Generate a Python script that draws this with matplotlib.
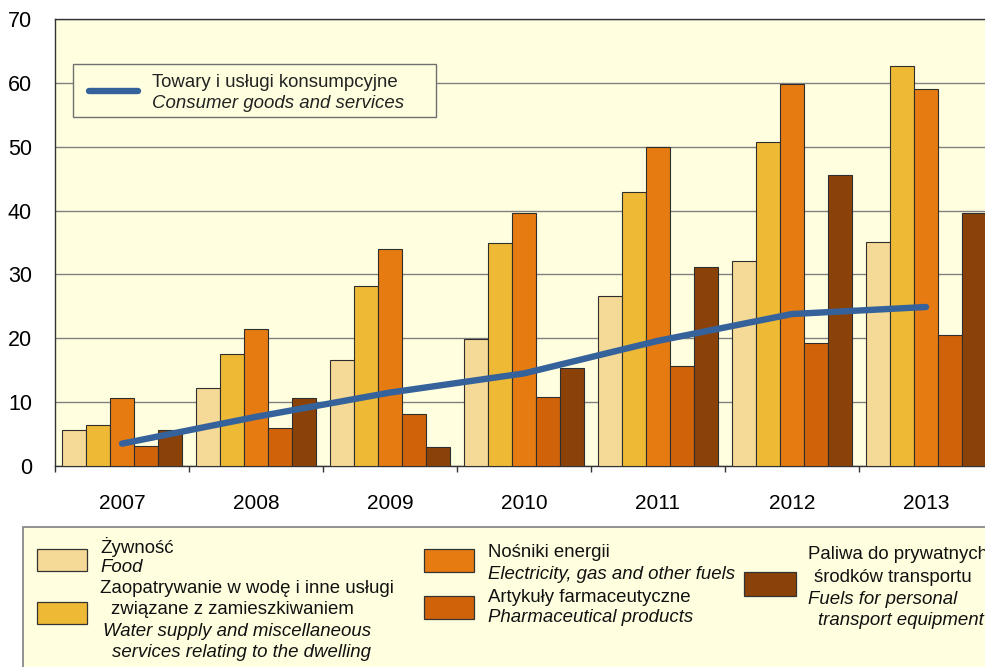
import matplotlib
matplotlib.use('Agg')
import matplotlib.pyplot as plt
from matplotlib.patches import Rectangle
from matplotlib.lines import Line2D
import numpy as np

plt.rcParams['font.family'] = ['Liberation Sans', 'DejaVu Sans']

# ---------------- data ----------------
years = ['2007', '2008', '2009', '2010', '2011', '2012', '2013']
food = [5.6, 12.2, 16.6, 19.9, 26.7, 32.1, 35.0]
water = [6.4, 17.5, 28.2, 34.9, 42.9, 50.8, 62.7]
energy = [10.6, 21.5, 34.0, 39.6, 49.9, 59.8, 59.0]
pharma = [3.2, 6.0, 8.1, 10.8, 15.7, 19.2, 20.5]
fuels = [5.7, 10.7, 3.0, 15.3, 31.2, 45.5, 39.6]
cpi = [3.5, 7.7, 11.5, 14.5, 19.6, 23.8, 24.9]

cpi_label_pl = 'Towary i usługi konsumpcyjne'
cpi_label_en = 'Consumer goods and services'
yticks = [0, 10, 20, 30, 40, 50, 60, 70]

series = [food, water, energy, pharma, fuels]
colors = ['#F5D996', '#EEB934', '#E67B12', '#D0620A', '#8B4209']

W, H = 985, 667
def fx(x):
    return x / W
def fy(y):
    return 1 - y / H

bg = '#FFFFE0'
fig = plt.figure(figsize=(W / 100, H / 100), dpi=100)
fig.patch.set_facecolor('white')
ax = fig.add_axes([fx(55), fy(466), (993 - 55) / W, (466 - 19) / H])
ax.set_facecolor(bg)

x = np.arange(len(years))
bw = 0.179
for i, (vals, c) in enumerate(zip(series, colors)):
    ax.bar(x + (i - 2) * bw, vals, width=bw, color=c, edgecolor='#2E2E2E',
           linewidth=0.8, zorder=3)

ax.plot(x, cpi, color='#35629A', lw=4.6, solid_capstyle='round',
        solid_joinstyle='round', zorder=4)

ax.set_xlim(-0.5, len(years) - 0.5)
ax.set_ylim(0, 70)
ax.set_yticks(yticks)
ax.set_yticklabels([str(v) for v in yticks])
ax.yaxis.grid(True, color='#808080', lw=1.0, zorder=0)
ax.set_axisbelow(True)
ax.tick_params(axis='y', length=0, pad=16.5, labelsize=15.5)
ax.set_xticks(x)
ax.set_xticklabels(years)
ax.set_xticks(np.arange(len(years) + 1) - 0.5, minor=True)
ax.tick_params(axis='x', which='major', length=0, pad=20, labelsize=15)
ax.tick_params(axis='x', which='minor', length=4, width=1.0, color='#333333', direction='out')
for s in ax.spines.values():
    s.set_color('#333333')
    s.set_linewidth(1.0)

FS = 13.4

# ---- inner legend (line) ----
fig.patches.append(Rectangle((fx(73), fy(117)), (436 - 73) / W, (117 - 64) / H,
                             transform=fig.transFigure, facecolor=bg,
                             edgecolor='#707070', lw=1.0, zorder=5))
fig.lines.append(Line2D([fx(89), fx(138)], [fy(91), fy(91)], transform=fig.transFigure,
                        color='#35629A', lw=4.6, solid_capstyle='round', zorder=6))
fig.text(fx(152), fy(87), cpi_label_pl, fontsize=FS, va='baseline', color='#222222', zorder=6)
fig.text(fx(152), fy(107.5), cpi_label_en, fontsize=FS, va='baseline', style='italic',
         color='#222222', zorder=6)

# ---- bottom legend ----
fig.patches.append(Rectangle((fx(23), fy(700)), (1000 - 23) / W, (700 - 527) / H,
                             transform=fig.transFigure, facecolor=bg,
                             edgecolor='#808080', lw=1.2, zorder=1))

def patch(x0, y0, x1, y1, c):
    fig.patches.append(Rectangle((fx(x0), fy(y1)), (x1 - x0) / W, (y1 - y0) / H,
                                 transform=fig.transFigure, facecolor=c,
                                 edgecolor='#333333', lw=0.9, zorder=2))

def txt(xp, yp, s, it=False):
    fig.text(fx(xp), fy(yp), s, fontsize=FS, va='baseline',
             style='italic' if it else 'normal', color='#111111', zorder=3)

patch(37, 549, 87, 571, colors[0])
patch(37, 602, 87, 624, colors[1])
patch(424, 549, 474, 572, colors[2])
patch(424, 596, 474, 619, colors[3])
patch(744, 572, 796, 596, colors[4])

txt(100, 553, 'Żywność')
txt(100, 571.5, 'Food', True)
txt(100, 593, 'Zaopatrywanie w wodę i inne usługi')
txt(111, 614, 'związane z zamieszkiwaniem')
txt(103, 635.5, 'Water supply and miscellaneous', True)
txt(112, 657, 'services relating to the dwelling', True)

txt(488, 557, 'Nośniki energii')
txt(488, 579, 'Electricity, gas and other fuels', True)
txt(488, 601.5, 'Artykuły farmaceutyczne')
txt(488, 622, 'Pharmaceutical products', True)

txt(808, 559, 'Paliwa do prywatnych')
txt(814, 581.5, 'środków transportu')
txt(808, 603.5, 'Fuels for personal', True)
txt(818, 625, 'transport equipment', True)

fig.savefig('out.png', dpi=100, facecolor='white')
